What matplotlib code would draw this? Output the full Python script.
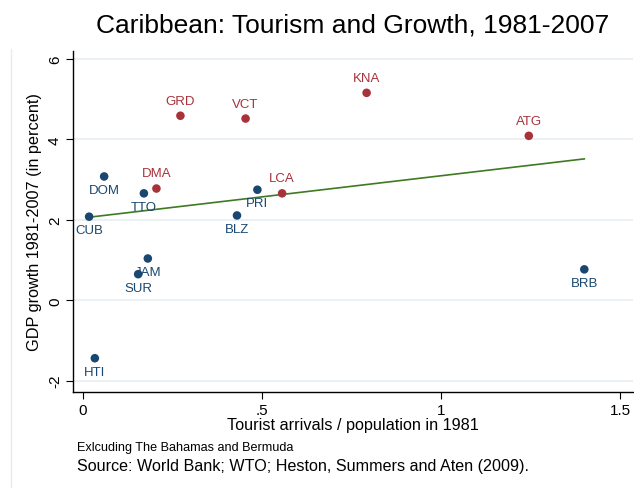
import numpy as np
import matplotlib
matplotlib.use("Agg")
import matplotlib.pyplot as plt
from matplotlib.lines import Line2D

plt.rcParams['font.family'] = ['Liberation Sans', 'DejaVu Sans']

# tourist arrivals / population in 1981, average GDP growth 1981-2007
countries = ['CUB', 'DOM', 'TTO', 'DMA', 'GRD', 'VCT', 'BLZ', 'PRI',
             'LCA', 'KNA', 'ATG', 'BRB', 'JAM', 'SUR', 'HTI']
tourists = [0.017, 0.059, 0.170, 0.205, 0.272, 0.454, 0.430, 0.487,
            0.556, 0.792, 1.245, 1.400, 0.181, 0.154, 0.033]
growth = [2.08, 3.08, 2.66, 2.78, 4.59, 4.52, 2.11, 2.75,
          2.66, 5.16, 4.09, 0.77, 1.04, 0.65, -1.44]
highlight = ['DMA', 'GRD', 'VCT', 'LCA', 'KNA', 'ATG']
label_above = ['DMA', 'GRD', 'VCT', 'LCA', 'KNA', 'ATG']

xticks = [0, 0.5, 1, 1.5]
xticklabels = ['0', '.5', '1', '1.5']
yticks = [-2, 0, 2, 4, 6]

blue = '#1a476f'
red = '#a8323a'
green = '#3e7a22'

fig = plt.figure(figsize=(6.34, 4.89), dpi=100)
ax = fig.add_axes([73/634, 1 - 393/489, 560/634, 341/489])

x = np.array(tourists)
y = np.array(growth)
cols = [red if c in highlight else blue for c in countries]

ax.scatter(x, y, s=38, c=cols, zorder=3, linewidths=0)

# linear fit over the observed range
slope, intercept = np.polyfit(x, y, 1)
xf = np.array([x.min(), x.max()])
ax.plot(xf, intercept + slope * xf, color=green, lw=1.2, zorder=2)

for c, xi, yi, col in zip(countries, x, y, cols):
    if c in label_above:
        ax.annotate(c, (xi, yi), xytext=(0, 6.5), textcoords='offset points',
                    ha='center', va='bottom', fontsize=9.5, color=col)
    else:
        ax.annotate(c, (xi, yi), xytext=(0, -5.5), textcoords='offset points',
                    ha='center', va='top', fontsize=9.5, color=col)

ax.set_xlim(-0.028, 1.536)
ax.set_ylim(-2.28, 6.2)
ax.set_xticks(xticks)
ax.set_xticklabels(xticklabels)
ax.set_yticks(yticks)
ax.set_yticklabels([str(t) for t in yticks], rotation=90, va='center')
ax.tick_params(direction='out', length=5, width=0.8, labelsize=11, pad=3)

ax.grid(axis='y', color='#e6eef2', lw=1.2)
ax.set_axisbelow(True)
for s in ['top', 'right']:
    ax.spines[s].set_visible(False)
for s in ['left', 'bottom']:
    ax.spines[s].set_linewidth(1.0)

ax.set_xlabel('Tourist arrivals / population in 1981', fontsize=11.7, labelpad=0)
ax.set_ylabel('GDP growth 1981-2007 (in percent)', fontsize=11.7)
ax.yaxis.set_label_coords(-31/560, 0.5)

fig.text(353/634, 1 - 26/489, 'Caribbean: Tourism and Growth, 1981-2007',
         ha='center', va='center', fontsize=19)
fig.text(77/634, 1 - 448/489, 'Exlcuding The Bahamas and Bermuda',
         ha='left', va='center', fontsize=9.1)
fig.text(77/634, 1 - 467/489, 'Source: World Bank; WTO; Heston, Summers and Aten (2009).',
         ha='left', va='center', fontsize=11.6)

fig.add_artist(Line2D([11/634, 11/634], [0, 1 - 50/489], color='#e3ecf0', lw=1))

fig.savefig('out.png', dpi=100)
